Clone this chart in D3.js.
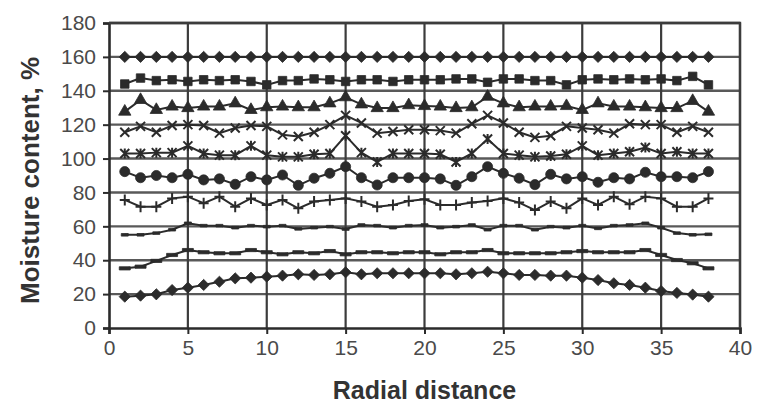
<!DOCTYPE html>
<html>
<head>
<meta charset="utf-8">
<script src="https://cdn.jsdelivr.net/npm/d3@7/dist/d3.min.js"></script>
<style>
  html, body { margin: 0; padding: 0; background: #fff; }
  svg { display: block; }
</style>
</head>
<body>
<svg id="chart" width="757" height="407"></svg>
<script>
// Radial positions (same for every profile)
const radial = d3.range(1, 39);

// Moisture content profiles, %, one per drying stage (top to bottom)
const stageA = [160,160,160,160,160,160,160,160,160,160,160,160,160,160,160,160,160,160,160,
                160,160,160,160,160,160,160,160,160,160,160,160,160,160,160,160,160,160,160];
const stageB = [144,147.5,146,146.5,145.5,146.5,146,146.5,145.5,143.5,146,146,147,146.5,145.5,146.5,146.5,145.5,146.5,
                146.5,146.5,147,147,145,147,147,146,146,143.5,146.5,147,146.5,147,146.5,147,146,148.5,143.5];
const stageC = [127.7,134.6,128.7,130.7,129.8,130.7,130.7,132.6,128.7,130.3,130.7,130.3,130.3,132.6,136.2,132,129.8,129.8,131.5,
                131,130.7,129.8,130.3,136.5,132.6,130.3,130.7,130.7,131,128.7,132.6,130.7,130.7,130.3,129.8,129.8,134,127.7];
const stageD = [115.5,119,115.5,119.5,120,119.5,115,118,119.5,119,114,113,115.5,120,125.5,121,115,116,117,
                117,116.5,115,120.5,125.5,121,115.5,112.5,113.5,119,118,117,115,120.5,120,120,115.5,119,115.5];
const stageE = [103,103,103.5,103.5,107.5,103,102,102,107.5,102,101,101,102.5,103,113.5,103.5,98,103,103,
                103,102.5,98,103,111.5,103,102,101,101.5,102.5,107.5,102,103,104,106.5,103,104,103,103];
const stageF = [92.3,88.7,90,88.7,90.7,87.4,88,84.8,89.3,87.4,90.3,84.2,88.4,91.3,95.2,88.7,84.4,88.7,88.7,
                88.7,88,84.2,89.3,95.2,91.3,88.4,84.6,90.7,88,89.3,86,88.7,88,91.9,89.3,89.3,88.7,92.3];
const stageG = [75.6,71.6,71.6,76.5,77.5,73.6,77.5,71.6,76.5,72.6,75.6,70.6,74.6,75.6,76.5,74.6,71.6,72.6,75,
                76,72.6,72.6,74,75,76.5,74,69.6,74.6,70.6,76.5,72.6,77.5,73,77.5,76.5,71.6,71.6,76.5];
const stageH = [55,55,56,58,61.8,60.4,60.4,59.2,60.4,59.8,60.4,58.5,59.2,59.8,58.4,60.8,60.4,59.2,60.4,
                60.8,59.2,59.8,60.8,58,60.4,60.4,58,59.8,59.2,60.4,58.8,60.4,60.8,61.8,59.2,56,55,55.3];
const stageI = [35.2,36.2,39.6,43.1,46,44.7,44.1,44.1,46,44.7,43.5,44.7,44.1,45.4,43.5,44.7,44.7,44.1,44.7,
                44.7,43.5,44.7,44.7,46,44.1,44.1,44.1,44.1,44.7,45.4,44.7,44.7,44.7,46,43.1,40.1,38.2,35.2];
const stageJ = [18.5,19.1,19.9,22.4,23.8,25.4,27.3,29.3,29.7,30.3,30.9,31.7,31.3,31.7,32.9,31.7,32.3,32.3,32.3,
                32.3,32.3,31.7,32.3,33.2,32.3,31.3,31.3,30.9,30.9,29.7,28.3,26.4,25.4,23.8,21.8,20.7,19.7,18.5];

// Tick values
const xTicks = [0, 5, 10, 15, 20, 25, 30, 35, 40];
const yTicks = [0, 20, 40, 60, 80, 100, 120, 140, 160, 180];

const profiles = [
  { values: stageA, marker: "diamond" },
  { values: stageB, marker: "square" },
  { values: stageC, marker: "triangle" },
  { values: stageD, marker: "x" },
  { values: stageE, marker: "star" },
  { values: stageF, marker: "circle" },
  { values: stageG, marker: "plus" },
  { values: stageH, marker: "dash" },
  { values: stageI, marker: "longdash" },
  { values: stageJ, marker: "diamond" }
];

const svg = d3.select("#chart");
const plot = { left: 109, right: 740, top: 23, bottom: 328 };

const x = d3.scaleLinear().domain([0, 40]).range([plot.left, plot.right]);
const y = d3.scaleLinear().domain([0, 180]).range([plot.bottom, plot.top]);

const ink = "#2b2b2b";
const font = "'Liberation Sans', Arial, sans-serif";

// Grid
const grid = svg.append("g");
grid.selectAll("line.h").data(yTicks.filter(v => v > 0)).join("line")
  .attr("x1", plot.left).attr("x2", plot.right)
  .attr("y1", d => y(d)).attr("y2", d => y(d))
  .attr("stroke", "#595959").attr("stroke-width", 2.4);
grid.selectAll("line.v").data(xTicks.filter(v => v > 0)).join("line")
  .attr("x1", d => x(d)).attr("x2", d => x(d))
  .attr("y1", plot.top).attr("y2", plot.bottom)
  .attr("stroke", "#3c3c3c").attr("stroke-width", 2.2);

// Axes
const xAxis = svg.append("g").attr("transform", `translate(0,${plot.bottom})`)
  .call(d3.axisBottom(x).tickValues(xTicks).tickSize(6).tickPadding(6).tickFormat(d3.format("d")));
const yAxis = svg.append("g").attr("transform", `translate(${plot.left},0)`)
  .call(d3.axisLeft(y).tickValues(yTicks).tickSize(6).tickPadding(7).tickFormat(d3.format("d")));
[xAxis, yAxis].forEach(g => {
  g.select(".domain").attr("stroke", ink).attr("stroke-width", 2.6);
  g.selectAll(".tick line").attr("stroke", ink).attr("stroke-width", 2);
  g.selectAll(".tick text").attr("fill", "#4a4a4a")
    .style("font-family", font).style("font-size", "21px");
});

// Marker shapes
const sym = (type, size) => d3.symbol().type(type).size(size)();
function markerPath(kind) {
  switch (kind) {
    case "diamond": return "M0,-5.6L5.6,0L0,5.6L-5.6,0Z";
    case "square": return sym(d3.symbolSquare, 72);
    case "triangle": return sym(d3.symbolTriangle, 66);
    case "circle": return sym(d3.symbolCircle, 80);
    case "x": return "M-4.5,-4.5L4.5,4.5M-4.5,4.5L4.5,-4.5";
    case "star": return "M-4.5,-4.5L4.5,4.5M-4.5,4.5L4.5,-4.5M0,-5L0,5";
    case "plus": return "M-5,0L5,0M0,-5.5L0,5.5";
    case "dash": return "M-3.5,-1.3H3.5V1.3H-3.5Z";
    case "longdash": return "M-5.5,-1.6H5.5V1.6H-5.5Z";
  }
}
const stroked = k => k === "x" || k === "star" || k === "plus";

const line = d3.line().x((d, i) => x(radial[i])).y(d => y(d));
const series = svg.append("g");

profiles.forEach(p => {
  const g = series.append("g");
  g.append("path").datum(p.values)
    .attr("d", line)
    .attr("fill", "none").attr("stroke", ink).attr("stroke-width", 2);
  g.selectAll("path.m").data(p.values).join("path")
    .attr("class", "m")
    .attr("transform", (d, i) => `translate(${x(radial[i])},${y(d)})`)
    .attr("d", markerPath(p.marker))
    .attr("fill", stroked(p.marker) ? "none" : ink)
    .attr("stroke", ink)
    .attr("stroke-width", stroked(p.marker) ? 2 : 0.8);
});

// Plot border (top and right)
svg.append("path")
  .attr("d", `M${plot.left},${plot.top}H${plot.right}V${plot.bottom}`)
  .attr("fill", "none").attr("stroke", "#3c3c3c").attr("stroke-width", 2.4);

// Axis titles
svg.append("text")
  .attr("x", (plot.left + plot.right) / 2).attr("y", 399)
  .attr("text-anchor", "middle")
  .attr("fill", "#333").style("font-family", font)
  .style("font-weight", "bold").style("font-size", "25px")
  .text("Radial distance");

svg.append("text")
  .attr("transform", `translate(30,${(plot.top + plot.bottom) / 2 + 5}) rotate(-90)`)
  .attr("text-anchor", "middle").attr("dy", "0.35em")
  .attr("fill", "#333").style("font-family", font)
  .style("font-weight", "bold").style("font-size", "26px")
  .text("Moisture content, %");
</script>
</body>
</html>
